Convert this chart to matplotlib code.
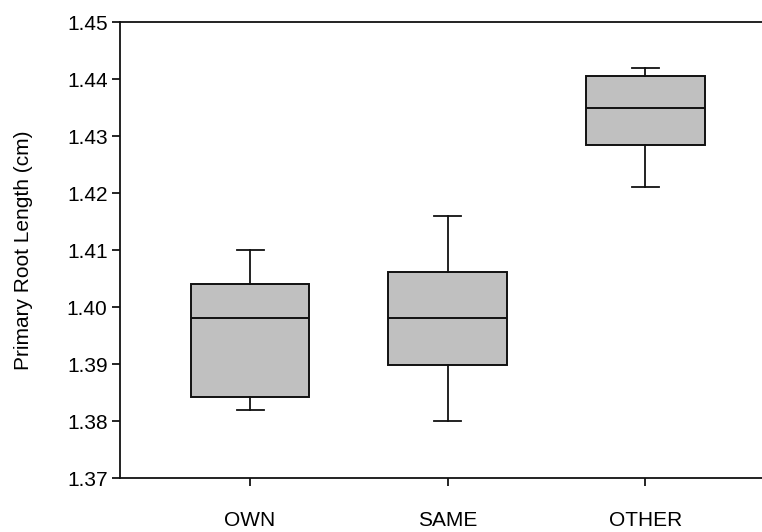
import matplotlib.pyplot as plt

# box plot summary values
groups = ["OWN", "SAME", "OTHER"]
whisker_low = [1.382, 1.380, 1.421]
q1 = [1.3842, 1.3898, 1.4284]
medians = [1.398, 1.398, 1.4349]
q3 = [1.4040, 1.4061, 1.4405]
whisker_high = [1.410, 1.416, 1.442]
yticks = [1.37, 1.38, 1.39, 1.40, 1.41, 1.42, 1.43, 1.44, 1.45]

plt.rcParams["font.family"] = ["Liberation Sans", "DejaVu Sans"]

stats = []
for i, name in enumerate(groups):
    stats.append({
        "label": name,
        "whislo": whisker_low[i],
        "q1": q1[i],
        "med": medians[i],
        "q3": q3[i],
        "whishi": whisker_high[i],
        "fliers": [],
    })

fig = plt.figure(figsize=(7.62, 5.32), dpi=100)
ax = fig.add_axes([0.1575, 0.1015, 0.8425, 0.8571])

ax.bxp(stats, positions=[1, 2, 3], widths=0.6, patch_artist=True,
       showfliers=False, capwidths=0.137,
       boxprops=dict(facecolor="#c0c0c0", edgecolor="#111111", linewidth=1.4),
       medianprops=dict(color="#111111", linewidth=1.4),
       whiskerprops=dict(color="#111111", linewidth=1.3),
       capprops=dict(color="#111111", linewidth=1.3))

ax.set_xlim(0.342, 3.59)
ax.set_ylim(1.37, 1.45)
ax.set_yticks(yticks)
ax.set_yticklabels([f"{v:.2f}" for v in yticks])
ax.set_xticks([1, 2, 3])
ax.set_xticklabels(groups)

ax.spines["right"].set_visible(False)
for s in ["left", "top", "bottom"]:
    ax.spines[s].set_linewidth(1.3)
    ax.spines[s].set_color("#111111")

ax.tick_params(axis="y", direction="out", length=6, width=1.2, labelsize=15, pad=3)
ax.tick_params(axis="x", direction="out", length=6, width=1.2, labelsize=15, pad=18)

ax.set_ylabel("Primary Root Length (cm)", fontsize=15, labelpad=24)

fig.savefig("out.png", dpi=100)
